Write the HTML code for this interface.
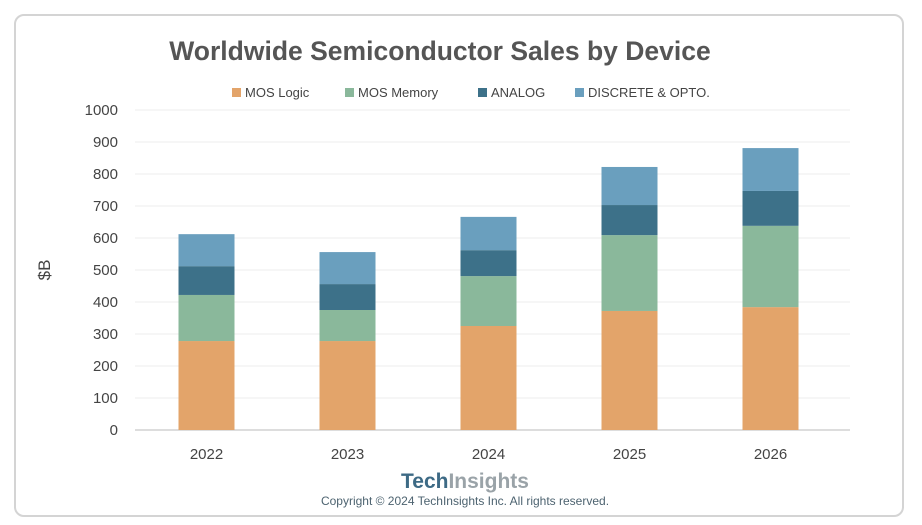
<!DOCTYPE html>
<html><head><meta charset="utf-8"><style>
body{margin:0;width:922px;height:525px;background:#fff;overflow:hidden;font-family:"Liberation Sans",sans-serif}
#frame{position:absolute;left:14px;top:14px;width:890px;height:503px;border:2px solid #d4d4d4;border-radius:10px;box-sizing:border-box}
</style></head><body>
<div id="frame"></div>
<svg id="chart" width="922" height="525" style="position:absolute;left:0;top:0">
<text x="440" y="60" text-anchor="middle" font-size="26.5" font-weight="bold" fill="#555">Worldwide Semiconductor Sales by Device</text>
<g id="legend"></g>
<text transform="translate(50,270) rotate(-90)" text-anchor="middle" font-size="17" fill="#444">$B</text>
<g id="grid"></g><g id="bars"></g><g id="axes"></g>
<text x="465" y="488" text-anchor="middle" font-size="21" font-weight="bold"><tspan fill="#3d6a85">Tech</tspan><tspan fill="#9aa3a8">Insights</tspan></text>
<text x="465" y="505" text-anchor="middle" font-size="12" fill="#4d6370">Copyright © 2024 TechInsights Inc.  All rights reserved.</text>
</svg>
<script>
const categories=["2022","2023","2024","2025","2026"];
const seriesNames=["MOS Logic","MOS Memory","ANALOG","DISCRETE & OPTO."];
const mosLogic=[278,278,325,372,384];
const mosMemory=[144,97,156,237,254];
const analog=[90,81,81,94,109];
const discrete=[100,100,104,119,134];
const yTicks=[0,100,200,300,400,500,600,700,800,900,1000];
const colors=["#e3a46a","#8ab89b","#3d7189","#6a9fbe"];
const NS="http://www.w3.org/2000/svg";
const y0=430,y1=110,x0=135,x1=850,yMax=1000;
const y=v=>y0-(v/yMax)*(y0-y1);
const step=141,bw=56;
const xc=i=>206.5+i*step;
function mk(t,a,p){const e=document.createElementNS(NS,t);for(const k in a)e.setAttribute(k,a[k]);(p||document.getElementById('chart')).appendChild(e);return e;}
const grid=document.getElementById('grid'),axes=document.getElementById('axes'),bars=document.getElementById('bars'),leg=document.getElementById('legend');
yTicks.forEach(t=>{
 const l=mk('line',{x1:x0,x2:x1,y1:y(t),y2:y(t),stroke:t===0?'#bbb':'#ededed','stroke-width':1},grid);
 
 
 const tx=mk('text',{x:118,y:y(t)+5,'text-anchor':'end','font-size':15,fill:'#444'},axes);tx.textContent=t;
 
 
});
categories.forEach((c,i)=>{
 const tx=mk('text',{x:xc(i),y:459,'text-anchor':'middle','font-size':15,fill:'#444'},axes);tx.textContent=c;
 
 
});
const series=[mosLogic,mosMemory,analog,discrete];
categories.forEach((c,i)=>{
 let base=0;
 series.forEach((s,j)=>{
  const top=base+s[i];
  const r=mk('rect',{x:xc(i)-bw/2,y:y(top),width:bw,height:y(base)-y(top),fill:colors[j]},bars);
  
  
  base=top;
 });
});
const lx=[232,345,478,575];
seriesNames.forEach((n,j)=>{
 const r=mk('rect',{x:lx[j],y:88,width:9,height:9,fill:colors[j]},leg);
 
 
 const t=mk('text',{x:lx[j]+13,y:97,'font-size':13,fill:'#444'},leg);t.textContent=n;
 
 
});
</script>
</body></html>
